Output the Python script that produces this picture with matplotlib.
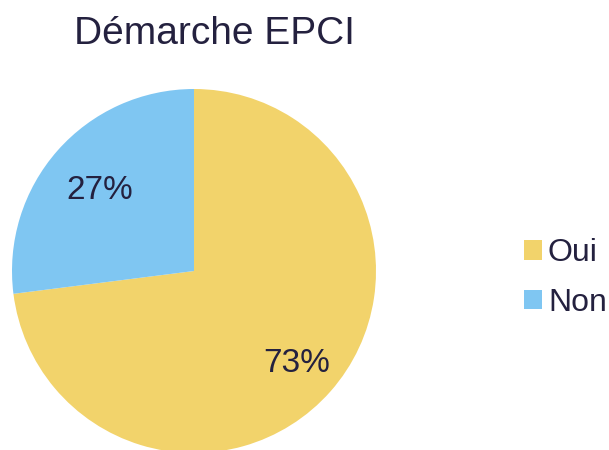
import matplotlib; matplotlib.use("Agg")
import matplotlib.pyplot as plt
import matplotlib.transforms as mtransforms
from matplotlib.patches import Patch

labels = ["Oui", "Non"]
values = [73, 27]
colors = ["#F2D36B", "#7FC6F2"]
INK = "#24213F"

plt.rcParams["font.family"] = ["Liberation Sans", "DejaVu Sans"]

fig = plt.figure(figsize=(6.09, 4.5), dpi=100)
fig.set_facecolor("white")
# pie: centre ~ (194,271) px, radius ~182 px
ax = fig.add_axes([12/609, (450-453)/450, 364/609, 364/450])
wedges, texts, autotexts = ax.pie(values, colors=colors, startangle=90, counterclock=False,
       autopct="%d%%", pctdistance=0.72, radius=1,
       textprops=dict(color=INK, fontsize=24))
# nudge the percentage labels a little down/right like the original
for t in autotexts:
    t.set_transform(mtransforms.offset_copy(ax.transData, fig=fig, x=4, y=-6, units="dots"))
ax.set_xlim(-1, 1); ax.set_ylim(-1, 1); ax.set_aspect("equal")
ax.axis("off")

fig.text(214/609, 1-34/450, "Démarche EPCI", ha="center", va="center",
         fontsize=28, color=INK)

handles = [Patch(facecolor=c, edgecolor="none") for c in colors]
fig.legend(handles, labels, loc="center left", bbox_to_anchor=(524/609, 1-278/450),
           frameon=False, fontsize=23, labelcolor=INK, handlelength=0.55,
           handleheight=0.55, handletextpad=0.2, labelspacing=0.6,
           borderpad=0, borderaxespad=0)

fig.savefig("out.png", dpi=100, facecolor="white")
